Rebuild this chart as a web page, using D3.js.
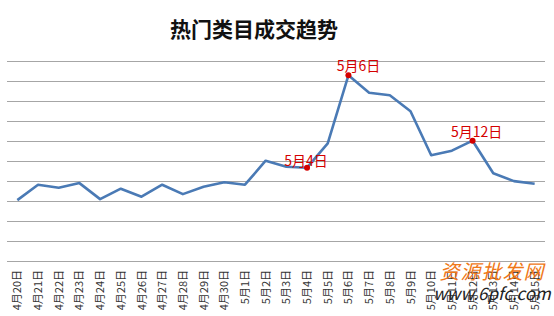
<!DOCTYPE html>
<html>
<head>
<meta charset="utf-8">
<script src="https://cdn.jsdelivr.net/npm/d3@7"></script>
<style>
  body { margin: 0; background: #fff; }
  svg { display: block; font-family: "Noto Sans CJK SC", "Noto Sans", sans-serif; }
</style>
</head>
<body>
<svg id="chart"></svg>
<script>
// categories and values
const dates = ["4月20日","4月21日","4月22日","4月23日","4月24日","4月25日","4月26日","4月27日","4月28日","4月29日","4月30日",
  "5月1日","5月2日","5月3日","5月4日","5月5日","5月6日","5月7日","5月8日","5月9日","5月10日","5月11日","5月12日","5月13日","5月14日","5月15日"];
const volume = [30.3, 38, 36.5, 38.8, 30.8, 36, 32, 38, 33.3, 37, 39.2,
  38, 50, 47, 46.5, 58.7, 92.7, 84, 82.7, 74.7, 52.7, 55, 60, 43.7, 39.8, 38.5];
const highlighted = ["5月4日", "5月6日", "5月12日"];
const yTicks = d3.range(0, 101, 10);

const width = 554, height = 316;
const plot = { left: 7, right: 545, top: 60.7, bottom: 260.7 };

const svg = d3.select("#chart").attr("width", width).attr("height", height);

const x = d3.scaleBand().domain(dates).range([plot.left, plot.right]);
const y = d3.scaleLinear().domain([0, 100]).range([plot.bottom, plot.top]);
const cx = d => x(d) + x.bandwidth() / 2;

// title
svg.append("text")
    .attr("x", 254).attr("y", 37)
    .attr("text-anchor", "middle")
    .style("font-size", "21px").style("font-weight", "bold").style("fill", "#111")
    .text("热门类目成交趋势");

// gridlines
svg.append("g").selectAll("line")
    .data(yTicks)
    .join("line")
    .attr("x1", plot.left).attr("x2", plot.right)
    .attr("y1", d => Math.round(y(d)) + 0.5).attr("y2", d => Math.round(y(d)) + 0.5)
    .attr("stroke", "#a6a6a6").attr("stroke-width", 1);

// x labels, rotated
svg.append("g").selectAll("text")
    .data(dates)
    .join("text")
    .attr("transform", d => `translate(${cx(d) + 4}, 270) rotate(-90)`)
    .attr("text-anchor", "end")
    .style("font-size", "11px").style("fill", "#333")
    .text(d => d);

// line
const points = dates.map((d, i) => ({ date: d, value: volume[i] }));
svg.append("path")
    .datum(points)
    .attr("fill", "none")
    .attr("stroke", "#4a7ab5")
    .attr("stroke-width", 2.6)
    .attr("stroke-linejoin", "round")
    .attr("d", d3.line().x(d => cx(d.date)).y(d => y(d.value)));

// marked points
const marked = points.filter(d => highlighted.includes(d.date));
svg.append("g").selectAll("circle")
    .data(marked)
    .join("circle")
    .attr("cx", d => cx(d.date)).attr("cy", d => y(d.value))
    .attr("r", 3).attr("fill", "#d40000");

const labelShift = { "5月4日": [-1, -2], "5月6日": [10, -4], "5月12日": [4, -4] };
svg.append("g").selectAll("text")
    .data(marked)
    .join("text")
    .attr("x", d => cx(d.date) + labelShift[d.date][0])
    .attr("y", d => y(d.value) + labelShift[d.date][1])
    .attr("text-anchor", "middle")
    .style("font-size", "14px").style("fill", "#d40000")
    .text(d => d.date);

// watermark
svg.append("text")
    .attr("x", 492).attr("y", 279)
    .attr("text-anchor", "middle")
    .style("font-size", "20px").style("fill", "#f07818").style("font-style", "italic")
    .style("letter-spacing", "1px")
    .text("资源批发网");
svg.append("text")
    .attr("x", 492).attr("y", 300)
    .attr("text-anchor", "middle")
    .style("font-size", "17px").style("fill", "#222").style("font-style", "italic")
    .text("www.6pfc.com");
</script>
</body>
</html>
